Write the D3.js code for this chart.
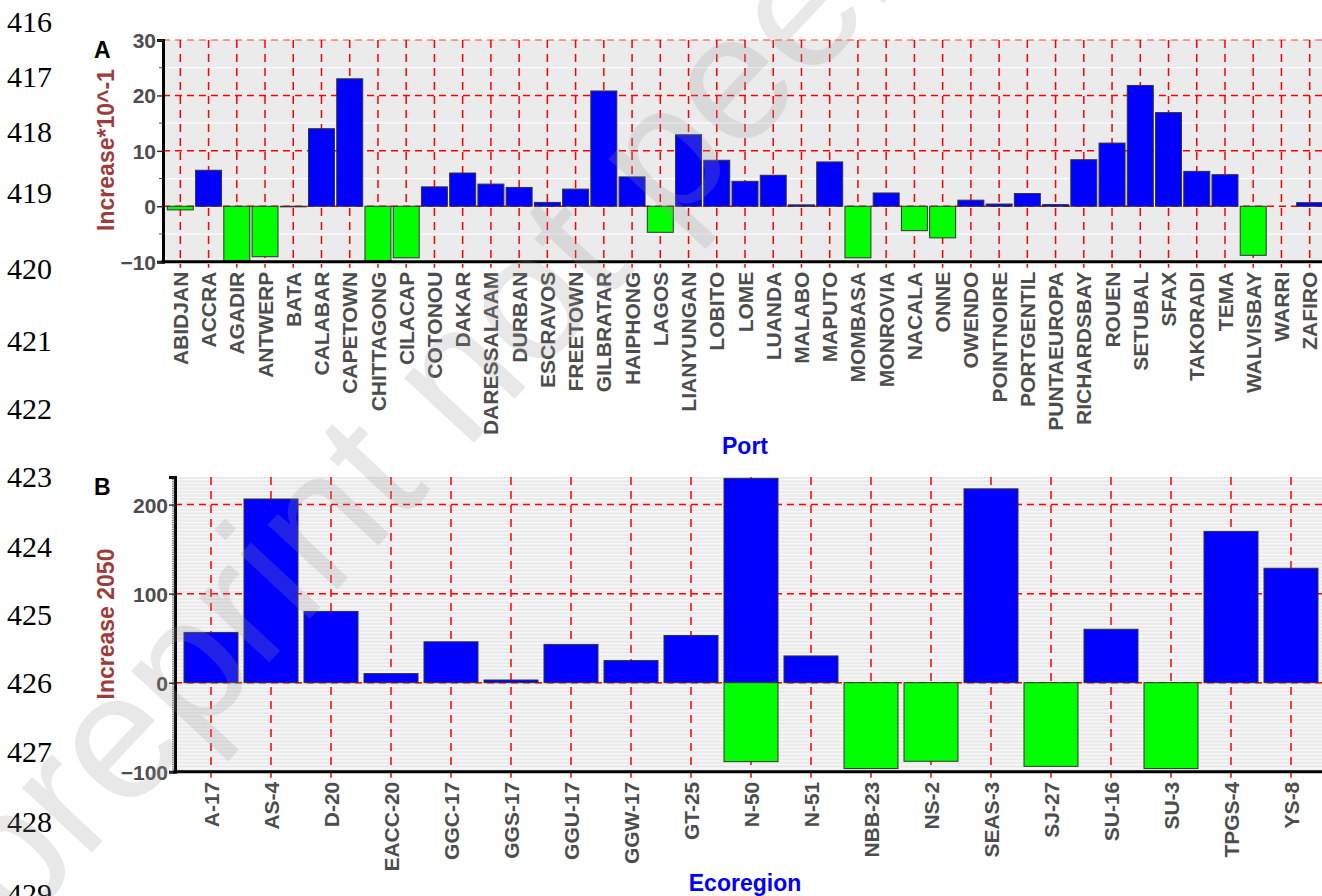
<!DOCTYPE html>
<html>
<head>
<meta charset="utf-8">
<script src="https://cdn.jsdelivr.net/npm/d3@7"></script>
<style>
  body { margin: 0; background: #fff; }
  svg { display: block; font-family: "Liberation Sans", Arial, sans-serif; }
</style>
</head>
<body>
<div class="canvas"></div>
<script>
// panel A: ports
const ports = ['ABIDJAN', 'ACCRA', 'AGADIR', 'ANTWERP', 'BATA', 'CALABAR', 'CAPETOWN', 'CHITTAGONG',
  'CILACAP', 'COTONOU', 'DAKAR', 'DARESSALAAM', 'DURBAN', 'ESCRAVOS', 'FREETOWN', 'GILBRATAR',
  'HAIPHONG', 'LAGOS', 'LIANYUNGAN', 'LOBITO', 'LOME', 'LUANDA', 'MALABO', 'MAPUTO', 'MOMBASA',
  'MONROVIA', 'NACALA', 'ONNE', 'OWENDO', 'POINTNOIRE', 'PORTGENTIL', 'PUNTAEUROPA', 'RICHARDSBAY',
  'ROUEN', 'SETUBAL', 'SFAX', 'TAKORADI', 'TEMA', 'WALVISBAY', 'WARRI', 'ZAFIRO']
const portValues = [-0.65, 6.5, -9.8, -9.1, -0.1, 14.0, 23.0, -9.8,
  -9.3, 3.5, 6.0, 4.0, 3.4, 0.7, 3.1, 20.8,
  5.3, -4.7, 12.9, 8.3, 4.5, 5.6, 0.25, 8.0, -9.3,
  2.4, -4.4, -5.7, 1.1, 0.4, 2.3, 0.3, 8.4,
  11.4, 21.8, 16.9, 6.3, 5.7, -8.85, 0, 0.65]
const portTicks = [-10, 0, 10, 20, 30]
const portMinor = [-5, 5, 15, 25]

// panel B: ecoregions
const ecoregions = ['A-17', 'AS-4', 'D-20', 'EACC-20', 'GGC-17', 'GGS-17', 'GGU-17', 'GGW-17', 'GT-25',
  'N-50', 'N-51', 'NBB-23', 'NS-2', 'SEAS-3', 'SJ-27', 'SU-16', 'SU-3', 'TPGS-4', 'YS-8']
const ecoIncrease = [56.4, 206.3, 80, 10.2, 45.9, 3, 43, 24.8, 53, 229.5, 30, 0, 0, 217.7, 0, 60, 0, 169.9, 128.5]
const ecoDecrease = [0, 0, 0, 0, 0, 0, 0, 0, 0, -88.7, 0, -96.5, -88.3, 0, -94, 0, -96.5, 0, 0]
const ecoTicks = [-100, 0, 100, 200]

// page line numbers and baselines
const lineNumbers = ['416', '417', '418', '419', '420', '421', '422', '423', '424', '425', '426', '427', '428', '429']
const lineBaselines = [32, 87, 142, 203, 279, 351, 419, 487, 557, 625, 693, 762, 832, 904]

const blue = '#0000ff'
const green = '#00ff00'
const grey = '#4d4d4d'
const brown = '#9e3b3b'

const svg = d3.select('.canvas')
  .append('svg')
  .attr('width', 1322)
  .attr('height', 896)

svg.append('g')
  .selectAll('text')
  .data(lineNumbers)
  .join('text')
  .attr('x', 7)
  .attr('y', (d, i) => lineBaselines[i])
  .attr('font-family', '"Liberation Serif", "Times New Roman", serif')
  .attr('font-size', 30)
  .attr('fill', '#000')
  .text(d => d)

const drawPanel = ({letter, cats, series, ticks, minor, yDomain, left, top, bottom, band, inner, title, xTitle, xTitleY}) => {
  const right = 1322
  const x = d3.scaleBand()
    .domain(cats)
    .range(band)
    .paddingInner(inner)
    .paddingOuter(inner / 2)
  const y = d3.scaleLinear()
    .domain(yDomain)
    .range([bottom, top])
  const g = svg.append('g')

  g.append('rect')
    .attr('x', left)
    .attr('y', top)
    .attr('width', right - left)
    .attr('height', bottom - top)
    .attr('fill', '#ebebeb')

  g.append('g')
    .selectAll('line')
    .data(minor)
    .join('line')
    .attr('x1', left)
    .attr('x2', right)
    .attr('y1', d => y(d))
    .attr('y2', d => y(d))
    .attr('stroke', '#fff')
    .attr('stroke-width', letter === 'A' ? 1.2 : 0.8)

  g.append('g')
    .selectAll('line')
    .data(ticks.filter(t => t > yDomain[0]))
    .join('line')
    .attr('x1', left)
    .attr('x2', right)
    .attr('y1', d => y(d))
    .attr('y2', d => y(d))
    .attr('stroke', 'red')
    .attr('stroke-opacity', d => d === yDomain[1] ? 0.5 : 1)
    .attr('stroke-width', 1.5)
    .attr('stroke-dasharray', '7,5')

  g.append('g')
    .selectAll('line')
    .data(cats)
    .join('line')
    .attr('x1', d => x(d) + x.bandwidth() / 2)
    .attr('x2', d => x(d) + x.bandwidth() / 2)
    .attr('y1', top)
    .attr('y2', bottom + 6)
    .attr('stroke', 'red')
    .attr('stroke-width', 1.5)
    .attr('stroke-dasharray', '8,6')

  series.forEach(({values, color}) => {
    g.append('g')
      .selectAll('rect')
      .data(cats.map((c, i) => ({c, v: values[i]})).filter(d => d.v !== 0))
      .join('rect')
      .attr('x', d => x(d.c))
      .attr('width', x.bandwidth())
      .attr('y', d => y(Math.max(0, d.v)))
      .attr('height', d => Math.abs(y(d.v) - y(0)))
      .attr('fill', d => color(d.v))
      .attr('stroke', '#333')
      .attr('stroke-width', 1)
  })

  // axes
  const yAxis = g.append('g')
    .attr('transform', `translate(${left}, 0)`)
    .call(d3.axisLeft(y).tickValues(ticks).tickSize(6).tickFormat(d3.format('d')))
  yAxis.select('.domain').attr('stroke', '#000').attr('stroke-width', 3)
  yAxis.selectAll('.tick line').attr('stroke', '#333').attr('stroke-width', 1.5)
  yAxis.selectAll('text')
    .attr('font-size', 21)
    .attr('font-weight', 'bold')
    .attr('fill', grey)
    .attr('x', -7)
    .attr('dy', '0.36em')
  const minorTicks = letter === 'A' ? minor : d3.range(yDomain[0], yDomain[1], 2)
  yAxis.append('g')
    .selectAll('line')
    .data(minorTicks)
    .join('line')
    .attr('x1', letter === 'A' ? -4 : -3)
    .attr('x2', 0)
    .attr('y1', d => y(d))
    .attr('y2', d => y(d))
    .attr('stroke', '#444')
    .attr('stroke-width', letter === 'A' ? 1 : 0.7)

  const xAxis = g.append('g')
    .attr('transform', `translate(0, ${bottom})`)
    .call(d3.axisBottom(x).tickSize(0))
  xAxis.select('.domain').remove()
  xAxis.append('line')
    .attr('x1', left - 1.5)
    .attr('x2', right)
    .attr('stroke', '#000')
    .attr('stroke-width', 3)
  xAxis.selectAll('.tick text')
    .attr('transform', 'rotate(-90)')
    .attr('text-anchor', 'end')
    .attr('x', -10)
    .attr('y', 0)
    .attr('dy', '0.36em')
    .attr('font-size', 21)
    .attr('font-weight', 'bold')
    .attr('fill', grey)

  svg.append('text')
    .attr('x', 94)
    .attr('y', top + 18)
    .attr('font-size', 23)
    .attr('font-weight', 'bold')
    .attr('fill', '#000')
    .text(letter)

  svg.append('text')
    .attr('transform', `translate(114, ${title.cy}) rotate(-90)`)
    .attr('text-anchor', 'middle')
    .attr('font-size', 23)
    .attr('font-weight', 'bold')
    .attr('fill', brown)
    .text(title.text)

  svg.append('text')
    .attr('x', 745)
    .attr('y', xTitleY)
    .attr('text-anchor', 'middle')
    .attr('font-size', 23)
    .attr('font-weight', 'bold')
    .attr('fill', blue)
    .text(xTitle)
}

drawPanel({
  letter: 'A',
  cats: ports,
  series: [{values: portValues, color: v => v < 0 ? green : blue}],
  ticks: portTicks,
  minor: portMinor,
  yDomain: [-10, 30],
  left: 163,
  top: 40,
  bottom: 261.7,
  band: [166.2, 1323.8],
  inner: 0.08,
  title: {text: 'Increase*10^-1', cy: 150},
  xTitle: 'Port',
  xTitleY: 454
})

drawPanel({
  letter: 'B',
  cats: ecoregions,
  series: [
    {values: ecoIncrease, color: () => blue},
    {values: ecoDecrease, color: () => green}
  ],
  ticks: ecoTicks,
  minor: d3.range(-100, 231, 4),
  yDomain: [-100, 231],
  left: 175,
  top: 477,
  bottom: 771.7,
  band: [181, 1321],
  inner: 0.1,
  title: {text: 'Increase 2050', cy: 624},
  xTitle: 'Ecoregion',
  xTitleY: 891
})

// faint diagonal watermark
svg.append('text')
  .attr('transform', 'translate(15, 935) rotate(-47)')
  .attr('font-size', 180)
  .attr('fill', 'rgba(150,150,150,0.22)')
  .attr('pointer-events', 'none')
  .text('preprint not peer reviewed')
</script>
</body>
</html>
